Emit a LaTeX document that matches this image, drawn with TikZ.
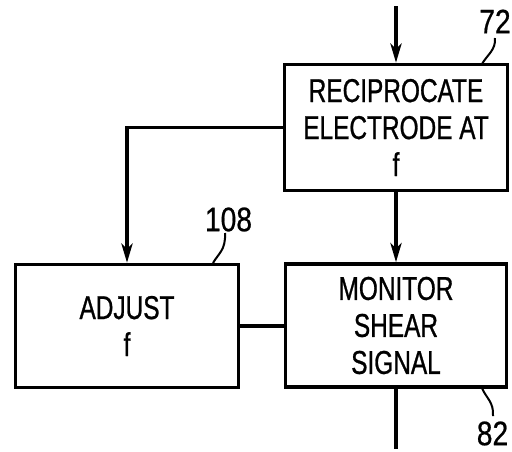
\documentclass[tikz,border=0pt]{standalone}
\usepackage{fontspec}
\setmainfont{Liberation Sans}[FakeStretch=0.74,FakeBold=0.8]
\newfontfamily\lblfont{Liberation Sans}[FakeStretch=0.83,FakeBold=0.6]
\usetikzlibrary{arrows.meta}
\begin{document}
\begin{tikzpicture}[x=1pt,y=-1pt,
  blk/.style={draw,line width=3.5pt,rectangle,align=center,inner sep=0pt,
    font=\fontsize{33}{37}\selectfont},
  conn/.style={line width=3.5pt},
  arr/.style={conn,-{Stealth[length=19pt,width=11pt,inset=5pt]}},
  lead/.style={line width=2pt},
  lbl/.style={font=\lblfont\fontsize{34}{38}\selectfont,inner sep=0pt}]
\useasboundingbox (0,0) rectangle (512,451);
\node[blk,minimum width=223pt,minimum height=126pt] (top) at (396,127.5) {RECIPROCATE\\ELECTRODE AT\\f};
\node[blk,minimum width=223pt,minimum height=123pt] (adj) at (127,326) {ADJUST\\f};
\node[blk,minimum width=221pt,minimum height=123pt] (mon) at (396,325.5) {MONITOR\\SHEAR\\SIGNAL};
\coordinate (in) at (396,6);
\coordinate (out) at (396,449);
\draw[arr] (in) -- (top.north);
\draw[arr] (top.south) -- (mon.north);
\draw[conn] (mon.south) -- (out);
\draw[arr] (top.west) -| (adj.north);
\draw[conn] (adj.east |- 0,326) -- (mon.west |- 0,326);
\node[lbl] (l72) at (495,21.5) {72};
\node[lbl] (l108) at (228.5,219.5) {108};
\node[lbl] (l82) at (492.5,433.5) {82};
\draw[lead] (482,64) .. controls (487,55) and (496,50) .. (495,38);
\draw[lead] (213,263) .. controls (218,254) and (226,250) .. (225,233);
\draw[lead] (482,388) .. controls (486,398) and (494,402) .. (493,416);
\end{tikzpicture}
\end{document}
